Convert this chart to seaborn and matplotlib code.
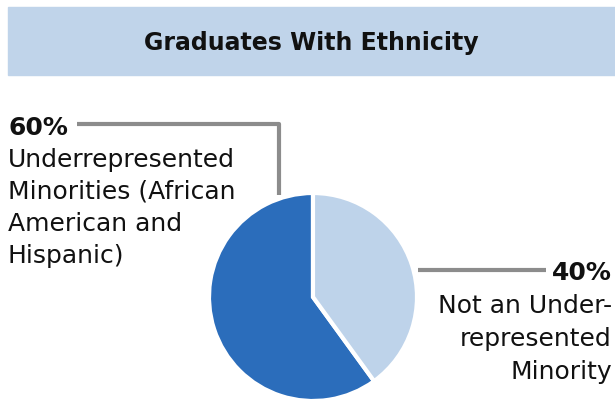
import matplotlib
matplotlib.use("Agg")
import matplotlib.pyplot as plt
import seaborn as sns
from matplotlib.patches import Rectangle

# データ
labels = ["Underrepresented Minorities (African American and Hispanic)",
          "Not an Underrepresented Minority"]
shares = [60, 40]
colors = ["#2B6DBB", "#BED3EA"]
title = "Graduates With Ethnicity"
left_text = ["Underrepresented", "Minorities (African", "American and", "Hispanic)"]
right_text = ["Not an Under-", "represented", "Minority"]

sns.set_theme(style="white")
plt.rcParams['font.family'] = ['DejaVu Sans']

W, H = 615, 406
fig = plt.figure(figsize=(W / 100, H / 100), dpi=100)

# タイトルの帯
fig.patches.append(Rectangle((8 / W, 1 - 76 / H), 607 / W, 68 / H,
                             transform=fig.transFigure, color="#C0D4EA", zorder=0))
fig.text(311 / W, 1 - 43 / H, title, ha="center", va="center",
         fontsize=17, fontweight="bold", color="#111111")

# 円グラフ
cx, cy, r = 313, 298, 104
ax = fig.add_axes([(cx - r) / W, (H - cy - r) / H, 2 * r / W, 2 * r / H])
ax.pie(shares, colors=colors, startangle=90, counterclock=True, radius=1,
       wedgeprops=dict(edgecolor="white", linewidth=3))
ax.set_xlim(-1, 1)
ax.set_ylim(-1, 1)
ax.set_aspect("equal")
ax.axis("off")

# 引き出し線とラベル (ピクセル座標)
ov = fig.add_axes([0, 0, 1, 1], zorder=-1)
ov.set_xlim(0, W)
ov.set_ylim(H, 0)
ov.axis("off")
ov.plot([77, 279, 279], [125, 125, 196], color="#8C8C8C", lw=3, solid_capstyle="butt")
ov.plot([418, 546], [271, 271], color="#8C8C8C", lw=3, solid_capstyle="butt")

fs = 18
ov.text(8, 128, f"{shares[0]}%", ha="left", va="center", fontsize=fs,
        fontweight="bold", color="#111111")
for i, line in enumerate(left_text):
    ov.text(8, 160 + i * 32, line, ha="left", va="center", fontsize=fs, color="#111111")

ov.text(612, 273, f"{shares[1]}%", ha="right", va="center", fontsize=fs,
        fontweight="bold", color="#111111")
for i, line in enumerate(right_text):
    ov.text(612, 306 + i * 33, line, ha="right", va="center", fontsize=fs, color="#111111")

fig.savefig("out.png", dpi=100)
plt.close()
